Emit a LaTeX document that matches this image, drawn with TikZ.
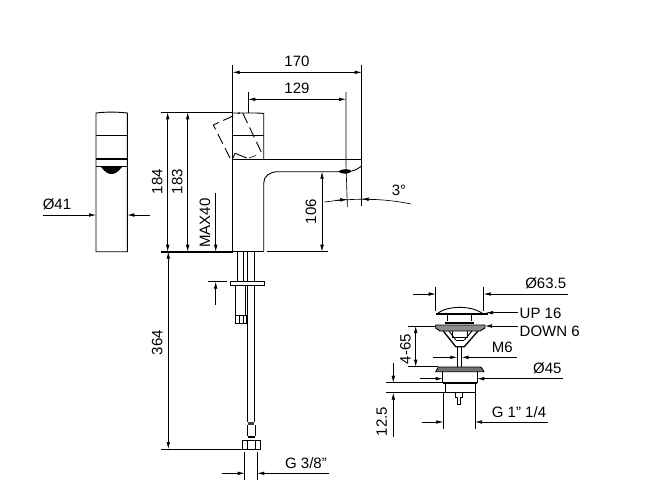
\documentclass[tikz,border=0pt]{standalone}
\usepackage{fontspec}
\setmainfont{Liberation Sans}
\usetikzlibrary{arrows.meta}
\tikzset{
	>={Latex[length=7pt,width=3.6pt]},
	part/.style={line width=.9pt},
	heavy/.style={line width=2pt},
	dim/.style={line width=.65pt},
	label/.style={font=\fontsize{15}{18}\selectfont,inner sep=0pt},
	vlabel/.style={label,rotate=90}
}
\begin{document}
\begin{tikzpicture}[x=1pt,y=-1pt]
	\useasboundingbox (0,0) rectangle (669,499);
	% front view
	\draw[part] (96,251.7) -- (96,113) .. controls (106,111.8) and (117,111.8) .. (127.3,113) -- (127.3,251.7) -- cycle;
	\draw[part] (96,135) -- (127.3,135);
	\draw[heavy] (96,159) -- (127.3,159);
	\draw[part] (96,166.5) -- (127.3,166.5);
	\fill (101,167) .. controls (105,172) and (108,174) .. (111.5,174) .. controls (115,174) and (118,172) .. (122,167) -- cycle;
	\draw[dim,->] (43,215) -- (96,215);
	\draw[dim,->] (150,215) -- (127.3,215);
	\node[label] (dia41) at (57,204) {Ø41};

	% side view, body
	\draw[part] (232.7,65) -- (232.7,251.7);
	\draw[part] (232.7,113) -- (252,113) .. controls (256,113) and (260,113) .. (263.7,113.5) -- (263.7,159);
	\draw[part] (232.7,135) -- (263.7,135);
	\draw[part] (232.7,159) -- (361.7,159);
	\draw[part] (263.7,251.7) -- (263.7,183) .. controls (263.7,176) and (270,171.7) .. (278,171.7) -- (340,171.7);
	\draw[part] (352,171) .. controls (356,170) and (359,168) .. (361.7,166);
	\fill (338,171.5) .. controls (342,168.5) and (349,168.5) .. (352,171) .. controls (349,174.5) and (342,174.5) .. (338,171.5) -- cycle;
	% lever
	\draw[part,dash pattern=on 11pt off 5pt] (230,158) -- (213.3,125) -- (240,112.7);
	\draw[part,dash pattern=on 11pt off 5pt] (242.7,113) -- (261.7,153);
	\draw[part] (235,153.3) -- (246.7,158);
	\draw[part] (235,153.3) -- (233,158);
	\draw[dim] (249,158) -- (256,155.5);
	% base line
	\draw[heavy] (160.7,251.7) -- (232.7,251.7);
	\draw[part] (232.7,251.7) -- (263.7,251.7);
	\draw[dim] (266.7,251.7) -- (328,251.7);
	\draw[dim] (160.7,112.3) -- (232.7,112.3);

	% dimensions, side view
	\draw[dim] (361.7,65) -- (361.7,206);
	\draw[dim,<->] (232.7,72.3) -- (361.7,72.3);
	\node[label] (len170) at (297,61.5) {170};
	\draw[dim] (248.3,92) -- (248.3,112.5);
	\draw[dim] (346,92) -- (346,165) -- (347.4,207);
	\draw[dim,<->] (248.3,99.3) -- (346,99.3);
	\node[label] (len129) at (297,88.5) {129};
	\draw[dim,<->] (167.7,112.3) -- (167.7,251.7);
	\draw[dim,<->] (187.7,112.3) -- (187.7,251.7);
	\node[vlabel] (high184) at (157.3,181.7) {184};
	\node[vlabel] (high183) at (177.3,181.7) {183};
	\draw[dim,->] (215.7,193) -- (215.7,251.7);
	\draw[dim,->] (215.7,305) -- (215.7,281.7);
	\draw[dim] (208,281.7) -- (227,281.7);
	\node[vlabel] (max40) at (205,223) {MAX40};
	\draw[dim,<->] (322,171.7) -- (322,251.7);
	\node[vlabel] (high106) at (311,211.5) {106};
	% angle
	\draw[dim] (324.3,202) .. controls (350,198.5) and (380,197.5) .. (411,204);
	\draw[dim,->] (335,200.3) -- (347.3,199.4);
	\draw[dim,->] (374,199.4) -- (361.7,199);
	\node[label] (angle3) at (399,190.7) {3°};

	% tubes
	\foreach \i in {237.3,243,247.7,254.3}
		\draw[part] (\i,251.7) -- (\i,281.7);
	\filldraw[fill=white,part] (230,281.7) rectangle (264.7,285.7);
	\draw[part] (235.7,285.7) -- (235.7,315.7);
	\draw[part] (245.7,285.7) -- (245.7,315.7);
	\draw[part] (235,315.7) rectangle (246.7,323.7);
	\draw[dim] (239,315.7) -- (239,323.7);
	\draw[dim] (243,315.7) -- (243,323.7);
	\draw[part] (247.7,285.7) -- (247.7,421.7);
	\draw[part] (254.3,285.7) -- (254.3,421.7);
	\fill[black!75] (247.7,421.7) rectangle (254.3,425);
	\draw[part] (247.7,425) -- (247.7,436);
	\draw[part] (255,425) -- (255,436);
	\draw[heavy] (247.7,436.5) -- (255,436.5);
	\draw[part] (242.3,449) -- (242.3,440) -- (260,440) -- (260,449) -- cycle;
	\draw[dim] (247,440) -- (247,449);
	\draw[dim] (255.5,440) -- (255.5,449);
	% dimensions, tubes
	\draw[dim] (161,449) -- (242.3,449);
	\draw[dim,<->] (168.3,251.7) -- (168.3,449);
	\node[vlabel] (high364) at (157.3,342.7) {364};
	\draw[dim] (244.7,452) -- (244.7,480);
	\draw[dim] (257.3,452) -- (257.3,480);
	\draw[dim,->] (221.7,473.3) -- (244.7,473.3);
	\draw[dim,->] (329,473.3) -- (257.3,473.3);
	\node[label] (thread38) at (306,462.7) {G 3/8"};

	% waste, cap
	\draw[part] (438,313) .. controls (448,305.5) and (471,305.5) .. (482,313);
	\draw[heavy] (435.5,314) -- (488,314);
	\draw[part] (447.7,315) -- (447.7,321);
	\draw[part] (471,315) -- (471,321);
	\draw[heavy] (445,322.5) -- (474,322.5);
	\filldraw[fill=black!45,part] (435.7,325) -- (485,325) -- (485,328) -- (480,331) -- (440,331) -- (435.7,328) -- cycle;
	% waste, cone
	\draw[line width=1.3pt] (443.3,331) -- (455.7,346.7) -- (464.3,346.7) -- (478,331);
	\draw[part] (449,331) -- (455.7,340);
	\draw[part] (472,331) -- (464.3,340);
	\draw[part] (452,331) -- (452,337) -- (467,337) -- (467,331);
	\draw[part] (455.7,340) -- (464.3,340);
	\draw[part] (457.3,346.7) -- (457.3,367);
	\draw[part] (461.7,346.7) -- (461.7,367);
	% waste, body
	\filldraw[fill=black!55,part] (435.7,371.7) -- (438.5,367) -- (481,367) -- (484,371.7) -- cycle;
	\draw[part] (442.7,371.7) -- (442.7,382.7);
	\draw[part] (477.3,371.7) -- (477.3,382.7);
	\draw[heavy] (442.7,383.3) -- (477.3,383.3);
	\draw[part] (445.7,384) -- (445.7,392) -- (475,392) -- (475,384);
	\draw[part] (455,392) -- (455,397) -- (457,397) -- (457,404) -- (460.5,404) -- (460.5,397) -- (462,397) -- (462,392);
	% dimensions, waste
	\draw[dim] (435.7,286.7) -- (435.7,311);
	\draw[dim] (483.7,286.7) -- (483.7,311);
	\draw[dim,->] (413.3,294) -- (435.7,294);
	\draw[dim,->] (568.3,294) -- (483.7,294);
	\node[label] (dia635) at (545.7,283.5) {Ø63.5};
	\draw[dim,->] (518,312.7) -- (486,312.7);
	\node[label,anchor=west] (up16) at (519.5,313.5) {UP 16};
	\node[label,anchor=west] (down6) at (519.5,331) {DOWN 6};
	\draw[dim,->] (518,326) -- (485,326);
	\draw[dim] (408.3,326) -- (436,326);
	\draw[dim] (408.3,366.7) -- (438,366.7);
	\draw[dim,<->] (415.7,326) -- (415.7,366.7);
	\node[vlabel] (stroke) at (405.5,349) {4-65};
	\draw[dim,->] (433.3,357.3) -- (457.3,357.3);
	\draw[dim,->] (517.3,357.3) -- (461.7,357.3);
	\node[label] (thrm6) at (502.3,347) {M6};
	\draw[dim,->] (420,378.7) -- (442.7,378.7);
	\draw[dim,->] (562.7,378.7) -- (477.3,378.7);
	\node[label] (dia45) at (547.3,368.5) {Ø45};
	\draw[dim] (386,382.7) -- (441.7,382.7);
	\draw[dim] (386,392.7) -- (445,392.7);
	\draw[dim,->] (393.3,362.7) -- (393.3,382.7);
	\draw[dim,->] (393.3,436.7) -- (393.3,392.7);
	\node[vlabel] (high125) at (381.7,421.7) {12.5};
	\draw[dim] (443.3,392) -- (443.3,429);
	\draw[dim] (475,392) -- (475,429);
	\draw[dim,->] (421.7,422) -- (443.3,422);
	\draw[dim,->] (548.3,422) -- (475,422);
	\node[label] (thread114) at (519,412) {G 1'' 1/4};
\end{tikzpicture}
\end{document}
